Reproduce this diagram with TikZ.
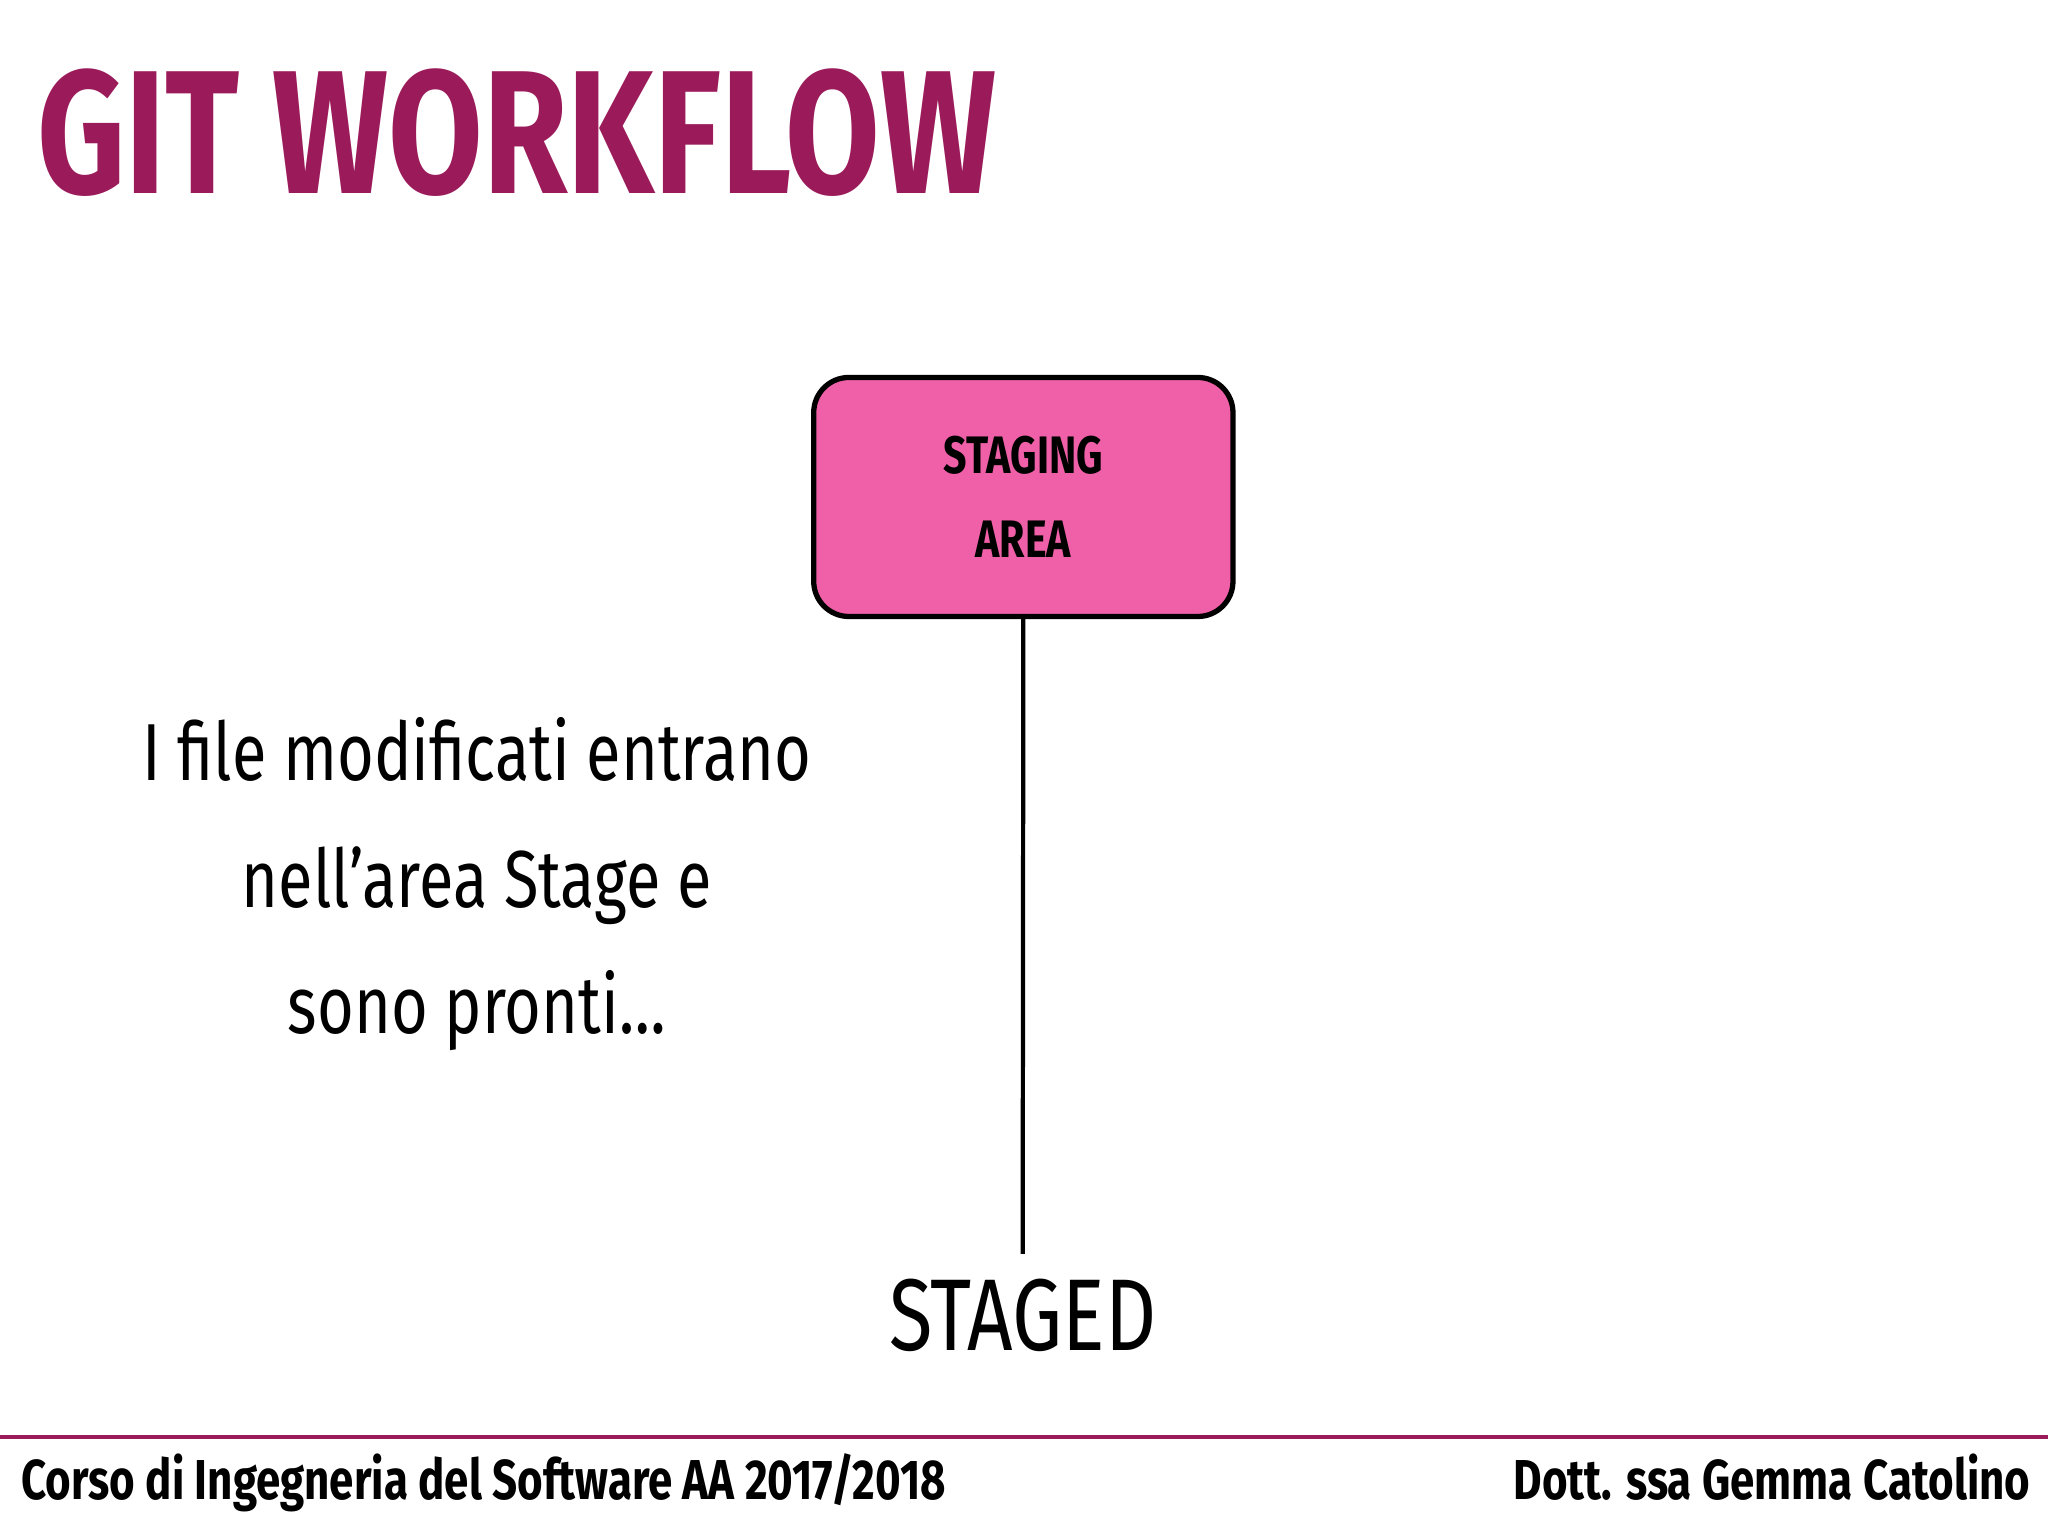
\documentclass[tikz,border=0pt]{standalone}
\usepackage{fontspec}
\setmainfont{Fira Sans}[FakeStretch=0.78]
\definecolor{gitpurple}{HTML}{9B1B5A}
\definecolor{stagepink}{HTML}{F060A8}
\begin{document}
\begin{tikzpicture}[x=0.013061cm,y=-0.013061cm,
  lbl/.style={inner sep=0pt,font=\fontsize{23}{36}\selectfont,align=center},
  foot/.style={inner sep=0pt,font=\fontsize{16}{18}\selectfont\bfseries}]
\useasboundingbox (0,0) rectangle (1568,1176);
\node[anchor=base west,inner sep=0pt,text=gitpurple,font=\fontsize{50}{50}\selectfont\bfseries] (title) at (28,148) {GIT WORKFLOW};
\node[draw=black,line width=1.5pt,fill=stagepink,rounded corners=10pt,minimum width=321*0.013061cm,minimum height=183*0.013061cm,align=center,font=\fontsize{15}{24}\selectfont\bfseries] (box) at (783.5,380.5) {STAGING\\AREA};
\node[inner sep=0pt,font=\fontsize{29}{30}\selectfont] (staged) at (783,1007) {STAGED};
\coordinate (lend) at (783,960);
\draw[line width=1.2pt] (box.south) -- (lend);
\node[lbl] (txt) at (365,677) {I file modificati entrano\\nell’area Stage e\\sono pronti…};
\coordinate (fl) at (0,1100);
\coordinate (fr) at (1568,1100);
\draw[gitpurple,line width=1.2pt] (fl) -- (fr);
\node[foot,anchor=base west] (f1) at (16,1148) {Corso di Ingegneria del Software AA 2017/2018};
\node[foot,anchor=base east] (f2) at (1555,1148) {Dott. ssa Gemma Catolino};
\end{tikzpicture}
\end{document}
